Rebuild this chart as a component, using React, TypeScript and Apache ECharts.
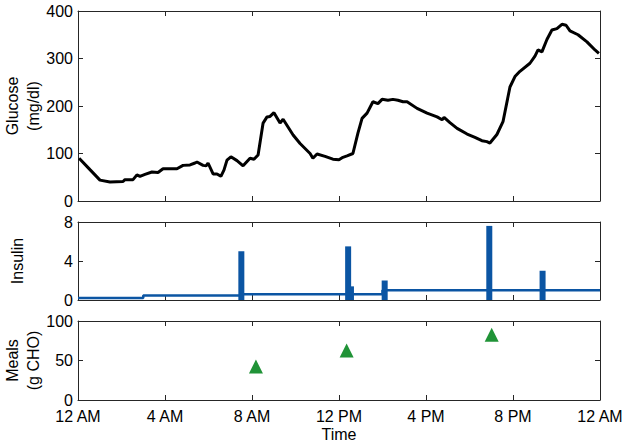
import React, { useEffect, useRef } from "react";
import * as echarts from "echarts";

const xTickHours = [0, 4, 8, 12, 16, 20, 24];
const xTickLabels = ["12 AM", "4 AM", "8 AM", "12 PM", "4 PM", "8 PM", "12 AM"];

const glucoseHours = [
  0.05, 0.55, 1.01, 1.47, 2.07, 2.16, 2.53, 2.71, 2.85, 3.08, 3.4, 3.68, 3.91, 4.55, 4.83, 5.15, 5.38, 5.47,
  5.75, 5.89, 5.98, 6.21, 6.39, 6.57, 6.71, 6.85, 7.03, 7.31, 7.59, 7.91, 8.09, 8.28, 8.51, 8.69, 8.83, 9.01,
  9.29, 9.43, 9.89, 10.21, 10.67, 10.8, 10.99, 11.36, 11.72, 12.0, 12.18, 12.37, 12.64, 12.87, 13.06, 13.29,
  13.56, 13.79, 13.98, 14.25, 14.48, 14.71, 14.94, 15.13, 15.59, 16.05, 16.51, 16.74, 16.83, 17.1, 17.43,
  17.89, 18.25, 18.57, 18.8, 18.94, 19.26, 19.54, 19.86, 20.09, 20.32, 20.78, 21.01, 21.15, 21.33, 21.56,
  21.79, 22.02, 22.25, 22.44, 22.62, 22.99, 23.4, 23.77, 23.95,
];
const glucoseValues = [
  90, 66, 44, 40, 41, 45, 45, 55, 52, 56, 61, 60, 68, 68, 75, 76, 80, 82,
  75, 74, 80, 57, 57, 52, 65, 86, 93, 85, 74, 90, 88, 97, 164, 177, 178, 186,
  164, 172, 139, 121, 100, 90, 99, 94, 88, 87, 92, 95, 100, 143, 174, 185,
  209, 205, 214, 212, 214, 212, 209, 209, 195, 185, 177, 171, 176, 165, 153,
  141, 134, 127, 125, 122, 140, 167, 240, 262, 273, 290, 305, 318, 314, 340,
  360, 363, 372, 370, 358, 350, 335, 318, 311,
];

const basalHours = [0, 3, 7.5, 14.0, 24];
const basalRates = [0.2, 0.45, 0.6, 1.0, 1.0];

const bolusHours = [7.51, 12.55, 12.42, 14.1, 18.91, 21.36];
const bolusUnits = [5.0, 1.4, 5.5, 2.0, 7.6, 3.0];

const mealHours = [8.18, 12.35, 19.02];
const mealCarbs = [40, 60, 80];

const AXIS_COLOR = "#262626";
const FONT = "'Liberation Sans', Arial, Helvetica, sans-serif";
const FS = 16;

const grids = [
  { left: 78, right: 28, top: 11, height: 190, outerBoundsMode: "none", containLabel: false },
  { left: 78, right: 28, top: 222, height: 78, outerBoundsMode: "none", containLabel: false },
  { left: 78, right: 28, top: 321, height: 79, outerBoundsMode: "none", containLabel: false },
];

function xAxisFor(gridIndex: number, position: "bottom" | "top", showLabels: boolean, name?: string) {
  return {
    type: "value",
    gridIndex,
    position,
    min: 0,
    max: 24,
    interval: 4,
    name: name || "",
    nameLocation: "middle",
    nameGap: 26,
    nameMoveOverlap: false,
    nameTextStyle: { color: "#000", fontFamily: FONT, fontSize: FS },
    splitLine: { show: false },
    axisLine: { show: true, onZero: false, lineStyle: { color: AXIS_COLOR, width: 1 } },
    axisTick: { show: true, inside: true, length: 5, lineStyle: { color: AXIS_COLOR } },
    axisLabel: {
      show: showLabels,
      color: "#000",
      fontFamily: FONT,
      fontSize: FS,
      margin: 8,
      hideOverlap: false,
      formatter: (v: number) => {
        const i = xTickHours.indexOf(v);
        return i >= 0 ? xTickLabels[i] : "";
      },
    },
  };
}

function yAxisFor(
  gridIndex: number,
  position: "left" | "right",
  min: number,
  max: number,
  interval: number,
  showLabels: boolean,
  name?: string,
  nameGap?: number
) {
  return {
    type: "value",
    gridIndex,
    position,
    min,
    max,
    interval,
    name: name || "",
    nameLocation: "middle",
    nameGap: nameGap || 0,
    nameRotate: 90,
    nameMoveOverlap: false,
    nameTextStyle: { color: "#000", fontFamily: FONT, fontSize: FS, lineHeight: 21 },
    splitLine: { show: false },
    axisLine: { show: true, onZero: false, lineStyle: { color: AXIS_COLOR, width: 1 } },
    axisTick: { show: true, inside: true, length: 5, lineStyle: { color: AXIS_COLOR } },
    axisLabel: { show: showLabels, color: "#000", fontFamily: FONT, fontSize: FS, margin: 5, hideOverlap: false },
  };
}

export default function App() {
  const ref = useRef<HTMLDivElement>(null);
  useEffect(() => {
    if (!ref.current) return;
    const chart = echarts.init(ref.current, undefined, { renderer: "svg" });
    const option: any = {
      animation: false,
      backgroundColor: "#fff",
      textStyle: { fontFamily: FONT },
      grid: grids,
      xAxis: [
        xAxisFor(0, "bottom", false),
        xAxisFor(0, "top", false),
        xAxisFor(1, "bottom", false),
        xAxisFor(1, "top", false),
        xAxisFor(2, "bottom", true, "Time"),
        xAxisFor(2, "top", false),
      ],
      yAxis: [
        yAxisFor(0, "left", 0, 400, 100, true, "Glucose\n(mg/dl)", 34),
        yAxisFor(0, "right", 0, 400, 100, false),
        yAxisFor(1, "left", 0, 8, 4, true, "Insulin", 50),
        yAxisFor(1, "right", 0, 8, 4, false),
        yAxisFor(2, "left", 0, 100, 50, true, "Meals\n(g CHO)", 34),
        yAxisFor(2, "right", 0, 100, 50, false),
      ],
      series: [
        {
          type: "line",
          name: "Glucose",
          xAxisIndex: 0,
          yAxisIndex: 0,
          data: glucoseHours.map((h, i) => [h, glucoseValues[i]]),
          showSymbol: false,
          lineStyle: { color: "#000", width: 3 },
          itemStyle: { color: "#000" },
        },
        {
          type: "line",
          name: "Basal",
          xAxisIndex: 2,
          yAxisIndex: 2,
          step: "end",
          data: basalHours.map((h, i) => [h, basalRates[i]]),
          showSymbol: false,
          lineStyle: { color: "#0b55a3", width: 2.5 },
          itemStyle: { color: "#0b55a3" },
        },
        {
          type: "bar",
          name: "Bolus",
          xAxisIndex: 2,
          yAxisIndex: 2,
          data: bolusHours.map((h, i) => [h, bolusUnits[i]]),
          barWidth: 6,
          itemStyle: { color: "#0b55a3" },
        },
        {
          type: "scatter",
          name: "Meals",
          xAxisIndex: 4,
          yAxisIndex: 4,
          data: mealHours.map((h, i) => [h, mealCarbs[i]]),
          symbol: "triangle",
          symbolSize: 14,
          symbolOffset: [0, -2],
          itemStyle: { color: "#209337", opacity: 1 },
        },
      ],
    };
    chart.setOption(option);
    return () => chart.dispose();
  }, []);
  return <div ref={ref} style={{ width: 628, height: 443, position: "absolute", left: 0, top: 0 }} />;
}
